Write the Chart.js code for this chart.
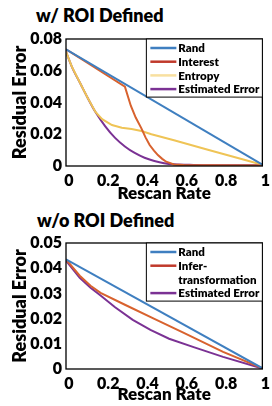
<!DOCTYPE html>
<html>
<head>
<meta charset="utf-8">
<script src="https://cdn.jsdelivr.net/npm/chart.js@4"></script>
<style>
  body { margin: 0; background: #fff; }
  #wrap { position: relative; width: 272px; height: 406px; overflow: hidden; }
  canvas { position: absolute; left: 0; }
  .ttl { position: absolute; font: 800 18px Lato, sans-serif; color: #000; white-space: nowrap; }
</style>
</head>
<body>
<div id="wrap">
  <div class="ttl" style="left:36px; top:4px;">w/ ROI Defined</div>
  <canvas id="c1" width="272" height="203" style="top:0"></canvas>
  <div class="ttl" style="left:37px; top:209px;">w/o ROI Defined</div>
  <canvas id="c2" width="272" height="203" style="top:203px"></canvas>
</div>
<script>
// tick labels
const rateTicks = [0, 0.2, 0.4, 0.6, 0.8, 1];
const roiErrTicks = [0, 0.02, 0.04, 0.06, 0.08];
const noRoiErrTicks = [0, 0.01, 0.02, 0.03, 0.04, 0.05];

// w/ ROI Defined
const roiRandX = [0, 1];
const roiRandY = [0.0735, 0.0008];
const roiInterestX = [0, 0.1, 0.2, 0.30, 0.33, 0.355, 0.384, 0.405, 0.426, 0.448, 0.468, 0.49, 0.51, 0.55, 0.6, 0.75, 1];
const roiInterestY = [0.0735, 0.0657, 0.0578, 0.050, 0.038, 0.0305, 0.0237, 0.018, 0.0132, 0.0097, 0.0069, 0.0045, 0.0027, 0.001, 0.0006, 0.0004, 0.0003];
const roiEntropyX = [0, 0.03, 0.075, 0.11, 0.15, 0.184, 0.234, 0.284, 0.334, 0.384, 0.435, 0.55, 0.727, 1];
const roiEntropyY = [0.072, 0.0625, 0.0515, 0.043, 0.034, 0.0295, 0.0258, 0.0241, 0.0233, 0.022, 0.020, 0.0162, 0.0101, 0.0008];
const roiEstX = [0, 0.03, 0.075, 0.11, 0.15, 0.2, 0.25, 0.3, 0.35, 0.4, 0.45, 0.5, 0.55, 0.65, 0.8, 1];
const roiEstY = [0.072, 0.0625, 0.0515, 0.043, 0.034, 0.025, 0.0177, 0.0123, 0.0082, 0.0052, 0.0032, 0.0018, 0.0011, 0.0007, 0.0005, 0.0004];

// w/o ROI Defined
const noRandX = [0, 1];
const noRandY = [0.0435, 0.0003];
const noInferX = [0, 0.07, 0.125, 0.176, 0.3, 0.45, 0.6, 0.8, 1];
const noInferY = [0.0435, 0.037, 0.033, 0.0302, 0.0255, 0.0199, 0.0143, 0.0068, 0.0003];
const noEstX = [0, 0.07, 0.125, 0.176, 0.25, 0.34, 0.43, 0.525, 0.65, 0.8, 1];
const noEstY = [0.043, 0.0362, 0.0322, 0.0292, 0.0245, 0.0195, 0.0155, 0.012, 0.0087, 0.0048, 0.0002];

const BLUE = '#3f7fc0', ORANGE = '#d8622e', YELLOW = '#efc456', PURPLE = '#7b3294';
const FONT = 'Lato';

function pts(xs, ys) {
  return xs.map((x, i) => ({ x: x, y: ys[i] }));
}

function line(label, xs, ys, color, legendColor, smooth) {
  return {
    label: label,
    data: pts(xs, ys),
    borderColor: color,
    legendColor: legendColor || color,
    borderWidth: 2,
    pointRadius: 0,
    tension: smooth ? 0.4 : 0,
    cubicInterpolationMode: smooth ? 'monotone' : 'default',
    fill: false,
  };
}

// box round the plot plus a legend drawn inside it, top right
const framePlugin = {
  id: 'frameLegend',
  afterDatasetsDraw(chart, args, opts) {
    const { ctx, chartArea: a } = chart;
    ctx.save();
    ctx.strokeStyle = '#000';
    ctx.lineWidth = 1.3;
    ctx.strokeRect(a.left, a.top, a.right - a.left, a.bottom - a.top);

    const rows = [];
    chart.data.datasets.forEach(ds => {
      const lines = Array.isArray(ds.label) ? ds.label : [ds.label];
      lines.forEach((t, i) => rows.push({ text: t, color: i === 0 ? ds.legendColor : null }));
    });
    const w = opts.width, rowH = 13.7;
    const h = 9 + (rows.length - 1) * rowH + 8;
    const left = a.right - w, top = a.top;
    ctx.fillStyle = '#fff';
    ctx.fillRect(left, top, w, h);
    ctx.lineWidth = 1;
    ctx.strokeRect(left, top, w, h);
    ctx.font = '800 11.5px ' + FONT + ', sans-serif';
    ctx.textBaseline = 'middle';
    ctx.textAlign = 'left';
    rows.forEach((r, i) => {
      const y = top + 9 + i * rowH;
      if (r.color) {
        ctx.strokeStyle = r.color;
        ctx.lineWidth = 2.5;
        ctx.beginPath();
        ctx.moveTo(left + 4, y);
        ctx.lineTo(left + 30, y);
        ctx.stroke();
      }
      ctx.fillStyle = '#000';
      ctx.fillText(r.text, left + 32, y + 0.5);
    });
    ctx.restore();
  }
};

function makeChart(id, datasets, yMax, yTicks, topPad, titlePad) {
  return new Chart(document.getElementById(id), {
    type: 'line',
    data: { datasets: datasets },
    plugins: [framePlugin],
    options: {
      responsive: false,
      animation: false,
      layout: { padding: { top: topPad, right: 8, left: 0, bottom: 0 } },
      plugins: {
        legend: { display: false },
        tooltip: { enabled: false },
        frameLegend: { width: 116 },
      },
      scales: {
        x: {
          type: 'linear',
          min: 0,
          max: 1,
          afterBuildTicks: s => { s.ticks = rateTicks.map(v => ({ value: v })); },
          afterFit: s => { s.height = 37; },
          grid: { display: false, drawTicks: false },
          border: { display: false },
          ticks: {
            color: '#000', padding: 5, maxRotation: 0, labelOffset: 3,
            callback: v => String(v),
            font: { family: FONT, weight: 800, size: 16 },
          },
          title: {
            display: true,
            text: 'Rescan Rate',
            color: '#000',
            padding: { top: 0, bottom: titlePad },
            font: { family: FONT, weight: 800, size: 17, lineHeight: 1.15 },
          },
        },
        y: {
          type: 'linear',
          min: 0,
          max: yMax,
          afterBuildTicks: s => { s.ticks = yTicks.map(v => ({ value: v })); },
          afterFit: s => { s.width = 66; },
          grid: { display: false, drawTicks: false },
          border: { display: false },
          ticks: {
            color: '#000', padding: 4,
            callback: v => String(v),
            font: { family: FONT, weight: 800, size: 16 },
          },
          title: {
            display: true,
            text: 'Residual Error',
            color: '#000',
            padding: { top: 9, bottom: 0 },
            font: { family: FONT, weight: 800, size: 18, lineHeight: 1.2 },
          },
        },
      },
    },
  });
}

makeChart('c1', [
  line('Rand', roiRandX, roiRandY, BLUE),
  line('Interest', roiInterestX, roiInterestY, ORANGE, '#c0392b'),
  line('Entropy', roiEntropyX, roiEntropyY, YELLOW, '#f8e0a0'),
  line('Estimated Error', roiEstX, roiEstY, PURPLE, null, true),
], 0.08, roiErrTicks, 39, 0);

makeChart('c2', [
  line('Rand', noRandX, noRandY, BLUE),
  line(['Infer-', 'transformation'], noInferX, noInferY, ORANGE, '#c0392b'),
  line('Estimated Error', noEstX, noEstY, PURPLE),
], 0.05, noRoiErrTicks, 40, 2);
</script>
</body>
</html>
